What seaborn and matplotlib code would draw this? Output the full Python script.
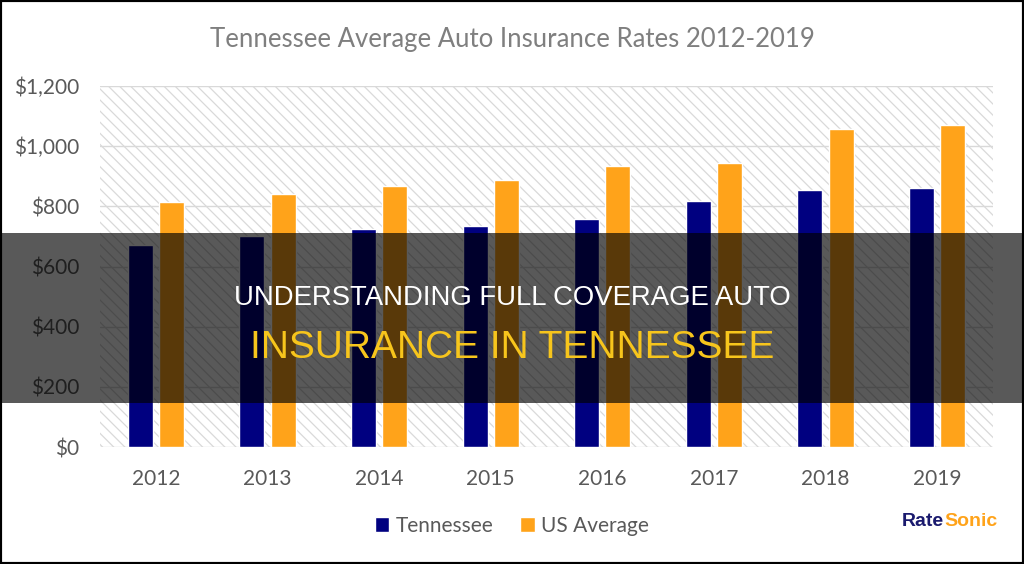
import pandas as pd
import seaborn as sns
import matplotlib.pyplot as plt
from matplotlib.patches import Rectangle, Patch
from matplotlib.ticker import FuncFormatter

# Data
years = ["2012", "2013", "2014", "2015", "2016", "2017", "2018", "2019"]
tennessee = [672, 703, 723, 735, 758, 819, 854, 862]
us_average = [813, 841, 868, 888, 935, 943, 1057, 1070]
series_names = ["Tennessee", "US Average"]
y_ticks = [0, 200, 400, 600, 800, 1000, 1200]

title = "Tennessee Average Auto Insurance Rates 2012-2019"
banner_line1 = "UNDERSTANDING FULL COVERAGE AUTO"
banner_line2 = "INSURANCE IN TENNESSEE"

NAVY = "#000080"
ORANGE = "#FFA31A"
GOLD = "#F7C51C"
TICK_GREY = "#595959"
GRID_GREY = "#d9d9d9"

df = pd.DataFrame({
    "year": years * 2,
    "rate": tennessee + us_average,
    "series": [series_names[0]] * len(years) + [series_names[1]] * len(years),
})

sns.set_theme(style="white")
plt.rcParams["font.family"] = ["Lato", "DejaVu Sans"]
plt.rcParams["hatch.color"] = GRID_GREY
plt.rcParams["hatch.linewidth"] = 0.9

fig = plt.figure(figsize=(10.24, 5.64), dpi=100)
ax = fig.add_axes([100 / 1024, 1 - 447 / 564, 893 / 1024, 361 / 564])

# hatched plot area
ax.patch.set_facecolor("white")
ax.patch.set_edgecolor(GRID_GREY)
ax.patch.set_hatch("\\\\\\")
ax.patch.set_linewidth(0)

sns.barplot(data=df, x="year", y="rate", hue="series",
            palette=[NAVY, ORANGE], width=0.56, gap=0.2,
            saturation=1, legend=False, ax=ax)

ax.set_xlim(-0.5, len(years) - 0.5)
ax.set_ylim(0, 1200)
ax.set_yticks(y_ticks)
ax.yaxis.set_major_formatter(FuncFormatter(lambda v, p: f"${v:,.0f}"))
ax.yaxis.grid(True, color=GRID_GREY, linewidth=1)
ax.set_axisbelow(True)
ax.set_xlabel("")
ax.set_ylabel("")
for s in ax.spines.values():
    s.set_visible(False)
ax.tick_params(axis="y", length=0, pad=15, labelsize=15, labelcolor=TICK_GREY)
ax.tick_params(axis="x", length=0, pad=16, labelsize=15, labelcolor=TICK_GREY)

fig.text(0.5, 1 - 40 / 564, title, ha="center", va="center",
         fontsize=18.5, color="#7f7f7f")

# legend
handles = [Patch(facecolor=NAVY), Patch(facecolor=ORANGE)]
fig.legend(handles, series_names, loc="center", bbox_to_anchor=(0.5, 1 - 526 / 564),
           ncol=2, frameon=False, fontsize=15, labelcolor=TICK_GREY,
           handlelength=0.7, handleheight=0.7, handletextpad=0.3, columnspacing=1.3)

# logo
fig.text(944 / 1024, 1 - 522 / 564, "Rate", ha="right", va="center",
         fontsize=14, fontweight="bold", color="#1a1a6e", family="Liberation Sans")
fig.text(944 / 1024, 1 - 522 / 564, "Sonic", ha="left", va="center",
         fontsize=14, fontweight="bold", color=ORANGE, family="Liberation Sans")

# dark banner across the middle
fig.add_artist(Rectangle((0, 1 - 403 / 564), 1, 170 / 564, transform=fig.transFigure,
                         facecolor="black", alpha=0.65, edgecolor="none", zorder=5))
fig.text(0.5, 1 - 305 / 564, banner_line1, ha="center", va="baseline",
         fontsize=19.8, color="white", family="Liberation Sans", zorder=6)
fig.text(0.5, 1 - 358 / 564, banner_line2, ha="center", va="baseline",
         fontsize=28, color=GOLD, family="Liberation Sans", zorder=6)

# thin black frame round the picture
fig.add_artist(Rectangle((0, 0), 1, 1, transform=fig.transFigure, facecolor="none",
                         edgecolor="black", linewidth=3, zorder=10))

fig.savefig("out.png", dpi=100)
